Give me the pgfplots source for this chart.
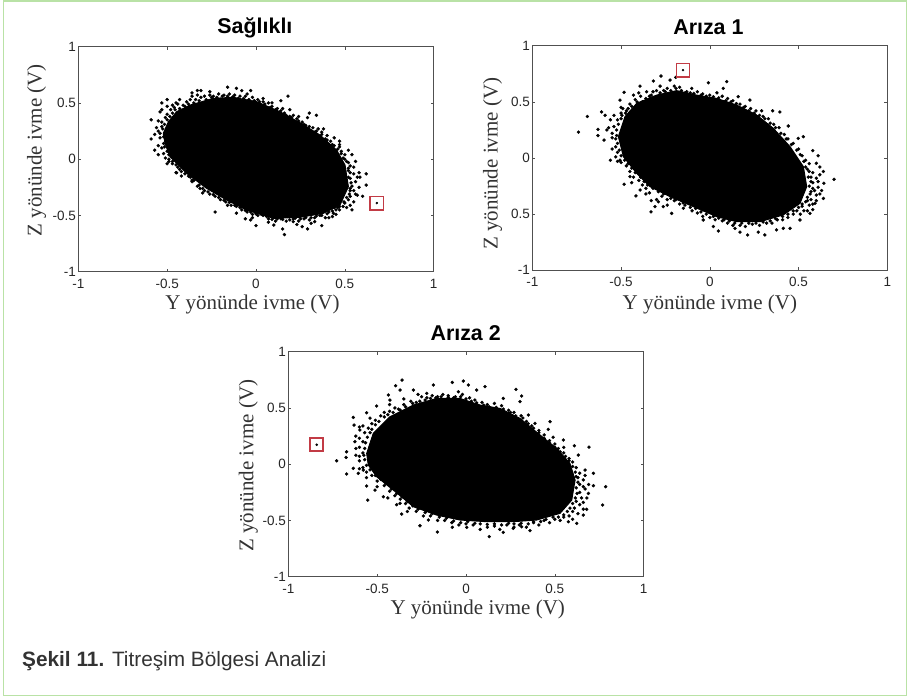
\documentclass[border=0pt]{standalone}
\usepackage{fontspec}
\usepackage{pgfplots}
\pgfplotsset{compat=1.18}
\setmainfont{Liberation Sans}
\newfontfamily\serifaxis{Liberation Serif}
\definecolor{framegreen}{HTML}{B9E2A6}
\definecolor{markred}{HTML}{C23B45}
\definecolor{axisgray}{HTML}{505050}
\pgfplotsset{
  every axis title shift=0pt,
  panel/.style={
    scale only axis, width=355.4pt, height=225pt, anchor=south west,
    xmin=-1,xmax=1,ymin=-1,ymax=1,
    axis line style={axisgray,line width=0.7pt},
    xtick={-1,-0.5,0,0.5,1}, ytick={-1,-0.5,0,0.5,1},
    xticklabels={-1,-0.5,0,0.5,1},
    tick align=inside, tick pos=both, major tick length=3pt,
    tick style={axisgray,line width=0.5pt},
    tick label style={font=\fontsize{13.5}{15}\selectfont,text=black!85},
    xticklabel style={yshift=-3.5pt},
    yticklabel style={xshift=1pt},
    xlabel={Y yönünde ivme (V)}, ylabel={Z yönünde ivme (V)},
    label style={font=\serifaxis\fontsize{21}{24}\selectfont,text=black!80},
    title style={font=\bfseries\fontsize{21.4}{25}\selectfont,anchor=base},
    clip=false,
  },
  core/.style={fill=black,draw=black,line width=1pt,line join=round},
  fringe/.style={only marks,mark=*,mark size=1.5pt,black,mark options={fill=black,draw=none}},
  boxed/.style={only marks,mark=square,mark size=6.6pt,mark options={draw=markred,fill=none,line width=1.7pt}},
  dot/.style={only marks,mark=*,mark size=1pt,black,mark options={draw=none}},
}
\begin{document}
\begin{tikzpicture}[x=1pt,y=1pt]
\useasboundingbox (0,0) rectangle (909,-698);
\draw[framegreen,line width=1.2pt] (3.5,-1) -- (906.5,-1) -- (906.5,-695.5) -- (3.5,-695.5) -- cycle;

\begin{axis}[panel,at={(78.3pt,-271.7pt)},yticklabels={-1,-0.5,0,0.5,1},
  title={Sağlıklı},title style={at={(axis description cs:0.497,1.0565)}},
  xlabel style={at={(axis description cs:0.49,-0.145)},anchor=center},
  ylabel style={at={(axis description cs:-0.117,0.54)},anchor=center}]
\addplot[core] coordinates {(-0.522,0.230)(-0.493,0.333)(-0.447,0.422)(-0.371,0.481)(-0.240,0.541)(-0.128,0.550)(0.004,0.511)(0.135,0.422)(0.248,0.324)(0.360,0.215)(0.454,0.081)(0.501,-0.052)(0.520,-0.244)(0.473,-0.407)(0.379,-0.481)(0.248,-0.517)(0.098,-0.526)(-0.053,-0.452)(-0.165,-0.363)(-0.278,-0.259)(-0.390,-0.126)(-0.484,0.022)(-0.512,0.141)} --cycle;
\addplot[fringe] coordinates {(-0.59,0.35)(-0.59,0.18)(-0.57,0.08)(-0.55,0.04)(-0.53,0.50)(-0.50,0.53)(-0.54,0.42)(-0.54,0.23)(-0.52,0.14)(-0.50,-0.04)(-0.45,-0.12)(-0.36,0.59)(-0.33,0.61)(-0.31,0.61)(-0.36,0.56)(-0.43,0.53)(-0.47,0.48)(-0.16,0.64)(-0.11,0.63)(-0.08,0.61)(-0.03,0.61)(-0.05,0.58)(0.04,0.54)(0.18,0.56)(0.14,0.52)(0.15,0.45)(0.19,0.44)(0.30,0.41)(0.34,0.39)(0.29,0.37)(0.21,0.39)(0.35,0.27)(0.40,0.21)(0.44,0.19)(0.47,0.16)(0.52,0.08)(0.54,0.04)(0.50,0.04)(0.55,-0.07)(0.58,-0.12)(0.62,-0.13)(0.585,-0.16)(0.62,-0.23)(0.60,-0.33)(0.57,-0.32)(0.53,-0.33)(0.54,-0.45)(0.47,-0.45)(0.43,-0.51)(0.37,-0.59)(0.29,-0.62)(0.26,-0.60)(0.15,-0.62)(0.16,-0.67)(0,-0.59)(-0.03,-0.54)(-0.06,-0.53)(-0.11,-0.48)(-0.23,-0.47)(-0.315,-0.26)(-0.36,-0.185)(-0.447,-0.12)(0.10,-0.585)(0.21,-0.555)(0.33,-0.555)(0.435,-0.48)
(-0.53,0.29)(-0.55,0.25)(-0.54,0.19)(-0.53,0.10)(-0.52,0.05)(-0.51,0.01)(-0.53,0.33)(-0.51,0.37)(-0.50,0.40)(-0.55,0.34)(-0.48,0.44)(-0.46,0.46)(-0.50,0.47)(-0.44,0.49)(-0.41,0.48)(-0.39,0.51)(-0.37,0.53)(-0.34,0.53)(-0.31,0.55)(-0.29,0.56)(-0.26,0.57)(-0.24,0.56)(-0.21,0.58)(-0.18,0.57)(-0.15,0.58)(-0.12,0.57)(-0.09,0.56)(-0.06,0.56)(-0.02,0.55)(0.01,0.53)(0.04,0.51)(0.07,0.50)(0.09,0.47)(0.12,0.45)(0.16,0.41)(0.19,0.38)(0.23,0.36)(0.26,0.33)(0.28,0.30)(0.32,0.28)(0.33,0.24)(0.37,0.24)(0.39,0.18)(0.42,0.16)(0.44,0.12)(0.47,0.11)(0.48,0.07)(0.50,0.00)(0.52,-0.03)(0.53,-0.06)(0.52,-0.10)(0.55,-0.13)(0.53,-0.17)(0.56,-0.20)(0.54,-0.24)(0.55,-0.28)(0.53,-0.28)(0.52,-0.36)(0.50,-0.39)(0.51,-0.43)(0.47,-0.42)(0.45,-0.45)(0.44,-0.43)(0.41,-0.47)(0.39,-0.52)(0.36,-0.50)(0.33,-0.52)(0.30,-0.54)(0.27,-0.53)(0.24,-0.55)(0.21,-0.53)(0.17,-0.55)(0.14,-0.53)(0.11,-0.55)(0.07,-0.53)(0.04,-0.50)(0.01,-0.50)(-0.02,-0.49)(-0.05,-0.47)(-0.08,-0.45)(-0.11,-0.42)(-0.14,-0.41)(-0.17,-0.38)(-0.20,-0.36)(-0.23,-0.33)(-0.26,-0.31)(-0.29,-0.28)(-0.33,-0.24)(-0.36,-0.20)(-0.38,-0.15)(-0.42,-0.11)(-0.44,-0.07)(-0.47,-0.04)(-0.49,-0.02)
(-0.525,0.27)(-0.52,0.20)(-0.515,0.11)(-0.50,0.07)(-0.49,0.04)(-0.515,0.31)(-0.50,0.35)(-0.485,0.38)(-0.47,0.41)(-0.455,0.44)(-0.43,0.45)(-0.40,0.47)(-0.38,0.49)(-0.35,0.50)(-0.32,0.52)(-0.28,0.53)(-0.25,0.55)(-0.22,0.55)(-0.19,0.56)(-0.16,0.56)(-0.13,0.555)(-0.10,0.54)(-0.07,0.54)(-0.04,0.53)(-0.01,0.52)(0.02,0.51)(0.05,0.49)(0.08,0.46)(0.11,0.44)(0.14,0.43)(0.17,0.39)(0.20,0.37)(0.24,0.34)(0.27,0.31)(0.30,0.29)(0.34,0.25)(0.37,0.22)(0.40,0.17)(0.43,0.13)(0.46,0.09)(0.48,0.05)(0.49,0.01)(0.51,-0.02)(0.52,-0.08)(0.53,-0.12)(0.52,-0.16)(0.535,-0.21)(0.53,-0.26)(0.525,-0.31)(0.51,-0.34)(0.495,-0.38)(0.49,-0.42)(0.46,-0.43)(0.43,-0.46)(0.40,-0.485)(0.37,-0.50)(0.34,-0.505)(0.31,-0.52)(0.28,-0.52)(0.25,-0.53)(0.22,-0.525)(0.19,-0.54)(0.15,-0.535)(0.12,-0.53)(0.09,-0.535)(0.06,-0.51)(0.03,-0.49)(0.00,-0.485)(-0.03,-0.47)(-0.06,-0.455)(-0.09,-0.43)(-0.12,-0.41)(-0.15,-0.385)(-0.18,-0.365)(-0.21,-0.34)(-0.24,-0.315)(-0.27,-0.29)(-0.30,-0.26)(-0.32,-0.23)(-0.35,-0.19)(-0.37,-0.16)(-0.40,-0.13)(-0.43,-0.09)(-0.45,-0.05)(-0.47,-0.02)(-0.49,0.00)
(-0.56,0.28)(-0.57,0.22)(-0.55,0.12)(-0.53,0.44)(-0.45,0.50)(-0.33,0.57)(-0.26,0.60)(0.09,0.50)(0.24,0.38)(0.38,0.27)(0.47,0.13)(0.56,-0.02)(0.57,-0.16)(0.58,-0.25)(0.56,-0.31)(0.55,-0.38)(0.53,-0.41)(0.45,-0.49)(0.41,-0.52)(0.31,-0.57)(0.23,-0.58)(0.07,-0.56)(-0.02,-0.52)(-0.16,-0.41)(-0.30,-0.30)(-0.42,-0.15)};
\addplot[dot] coordinates {(0.68,-0.39)};
\addplot[boxed] coordinates {(0.68,-0.39)};
\end{axis}

\begin{axis}[panel,at={(532.3pt,-270.3pt)},yticklabels={-1,0.5,0,0.5,1},width=355pt,height=224.6pt,
  title={Arıza 1},title style={at={(axis description cs:0.496,1.052)}},
  xlabel style={at={(axis description cs:0.5,-0.15)},anchor=center},
  ylabel style={at={(axis description cs:-0.1115,0.475)},anchor=center}]
\addplot[core] coordinates {(-0.515,0.19)(-0.478,0.368)(-0.412,0.487)(-0.30,0.56)(-0.187,0.60)(-0.074,0.56)(0.038,0.531)(0.151,0.472)(0.264,0.383)(0.358,0.264)(0.452,0.101)(0.527,-0.077)(0.546,-0.255)(0.508,-0.404)(0.414,-0.507)(0.283,-0.567)(0.151,-0.567)(0.038,-0.522)(-0.093,-0.433)(-0.224,-0.344)(-0.337,-0.255)(-0.412,-0.136)(-0.487,0.012)} --cycle;
\addplot[fringe] coordinates {(-0.74,0.23)(-0.69,0.37)(-0.63,0.255)(-0.63,0.20)(-0.61,0.41)(-0.59,0.38)(-0.58,0.25)(-0.596,0.16)(-0.54,0.38)(-0.56,-0.02)(-0.53,0.01)(-0.506,0.516)(-0.483,0.585)(-0.506,-0.02)(-0.483,-0.234)(-0.45,-0.166)(-0.416,-0.338)(-0.393,-0.285)(-0.331,-0.48)(-0.309,-0.433)(-0.262,-0.433)(-0.215,-0.493)(-0.149,-0.448)(-0.393,0.64)(-0.318,0.685)(-0.275,0.73)(-0.224,0.694)(-0.192,0.718)(-0.356,0.59)(-0.28,0.64)(-0.102,0.62)(-0.008,0.67)(0.095,0.68)(0.076,0.62)(0.16,0.546)(0.226,0.516)(0.292,0.42)(0.354,0.42)(0.395,0.41)(0.442,0.285)(0.498,0.175)(0.527,0.19)(0.58,0.065)(0.61,0.02)(0.60,-0.047)(0.64,-0.12)(0.70,-0.19)(0.643,-0.225)(0.64,-0.36)(0.593,-0.404)(0.564,-0.493)(0.508,-0.552)(0.452,-0.626)(0.414,-0.626)(0.376,-0.64)(0.31,-0.685)(0.273,-0.66)(0.213,-0.685)(0.17,-0.66)(0.142,-0.626)(0.048,-0.65)(0.02,-0.61)(-0.037,-0.552)
(-0.53,0.17)(-0.55,0.22)(-0.54,0.28)(-0.52,0.34)(-0.53,0.10)(-0.52,0.05)(-0.55,0.08)(-0.50,0.40)(-0.49,0.44)(-0.47,0.42)(-0.45,0.48)(-0.42,0.52)(-0.38,0.50)(-0.39,0.55)(-0.34,0.55)(-0.32,0.59)(-0.30,0.60)(-0.26,0.60)(-0.24,0.62)(-0.20,0.64)(-0.17,0.63)(-0.14,0.58)(-0.11,0.58)(-0.07,0.59)(-0.04,0.57)(0.00,0.56)(0.04,0.58)(0.07,0.55)(0.10,0.53)(0.13,0.51)(0.17,0.48)(0.20,0.46)(0.23,0.44)(0.26,0.42)(0.30,0.37)(0.33,0.35)(0.36,0.30)(0.39,0.27)(0.42,0.21)(0.44,0.17)(0.47,0.13)(0.50,0.08)(0.52,0.02)(0.54,-0.02)(0.56,-0.05)(0.55,-0.10)(0.58,-0.13)(0.57,-0.17)(0.60,-0.18)(0.58,-0.22)(0.61,-0.26)(0.59,-0.29)(0.57,-0.30)(0.60,-0.33)(0.57,-0.37)(0.55,-0.38)(0.56,-0.42)(0.52,-0.43)(0.53,-0.47)(0.49,-0.47)(0.47,-0.50)(0.44,-0.53)(0.41,-0.55)(0.38,-0.55)(0.35,-0.58)(0.32,-0.58)(0.28,-0.60)(0.24,-0.59)(0.20,-0.61)(0.17,-0.60)(0.13,-0.60)(0.10,-0.58)(0.07,-0.56)(0.03,-0.55)(0.00,-0.53)(-0.04,-0.52)(-0.07,-0.49)(-0.10,-0.47)(-0.14,-0.42)(-0.17,-0.41)(-0.20,-0.38)(-0.24,-0.37)(-0.27,-0.34)(-0.30,-0.37)(-0.34,-0.31)(-0.36,-0.27)(-0.38,-0.24)(-0.40,-0.20)(-0.43,-0.17)(-0.45,-0.12)(-0.47,-0.07)(-0.50,-0.04)(-0.52,-0.03)
(-0.525,0.20)(-0.525,0.25)(-0.515,0.30)(-0.50,0.35)(-0.495,0.38)(-0.475,0.40)(-0.46,0.44)(-0.44,0.46)(-0.41,0.50)(-0.36,0.53)(-0.33,0.56)(-0.28,0.58)(-0.25,0.59)(-0.22,0.60)(-0.19,0.62)(-0.16,0.60)(-0.13,0.59)(-0.09,0.575)(-0.05,0.56)(-0.02,0.55)(0.02,0.545)(0.05,0.535)(0.09,0.51)(0.12,0.50)(0.15,0.485)(0.19,0.45)(0.22,0.42)(0.25,0.40)(0.28,0.38)(0.31,0.35)(0.34,0.31)(0.37,0.27)(0.40,0.22)(0.43,0.17)(0.46,0.12)(0.49,0.07)(0.51,0.03)(0.53,-0.03)(0.54,-0.08)(0.56,-0.12)(0.555,-0.17)(0.57,-0.21)(0.56,-0.25)(0.58,-0.27)(0.565,-0.32)(0.55,-0.35)(0.54,-0.39)(0.52,-0.41)(0.50,-0.44)(0.47,-0.47)(0.44,-0.50)(0.41,-0.52)(0.37,-0.54)(0.34,-0.56)(0.30,-0.57)(0.26,-0.58)(0.22,-0.58)(0.18,-0.58)(0.14,-0.58)(0.11,-0.56)(0.08,-0.55)(0.05,-0.535)(0.02,-0.52)(-0.02,-0.50)(-0.05,-0.48)(-0.08,-0.45)(-0.11,-0.44)(-0.15,-0.40)(-0.19,-0.37)(-0.22,-0.36)(-0.26,-0.32)(-0.29,-0.30)(-0.32,-0.27)(-0.35,-0.24)(-0.37,-0.21)(-0.39,-0.17)(-0.42,-0.13)(-0.44,-0.09)(-0.46,-0.05)(-0.48,-0.02)(-0.50,0.02)(-0.51,0.07)(-0.52,0.13)
(0.62,-0.08)(0.62,-0.15)(0.61,-0.21)(0.63,-0.29)(0.62,-0.32)(0.60,-0.38)(0.58,-0.41)(0.58,-0.46)(0.55,-0.47)(0.51,-0.50)(-0.57,0.27)(-0.56,0.34)(-0.55,0.18)(-0.50,0.45)(-0.43,0.56)(-0.40,0.58)(-0.33,-0.38)(-0.36,-0.32)(-0.29,-0.39)(-0.24,-0.42)(-0.44,-0.22)};
\addplot[dot] coordinates {(-0.151,0.783)};
\addplot[boxed] coordinates {(-0.151,0.783)};
\end{axis}

\begin{axis}[panel,at={(288.3pt,-576.7pt)},yticklabels={-1,-0.5,0,0.5,1},
  title={Arıza 2},title style={at={(axis description cs:0.499,1.052)}},
  xlabel style={at={(axis description cs:0.533,-0.145)},anchor=center},
  ylabel style={at={(axis description cs:-0.1125,0.493)},anchor=center}]
\addplot[core] coordinates {(-0.559,0.096)(-0.522,0.274)(-0.428,0.422)(-0.296,0.526)(-0.165,0.585)(-0.034,0.585)(0.079,0.526)(0.191,0.496)(0.304,0.407)(0.417,0.259)(0.51,0.141)(0.585,0.007)(0.614,-0.141)(0.595,-0.319)(0.529,-0.437)(0.398,-0.496)(0.266,-0.511)(0.116,-0.511)(-0.034,-0.496)(-0.165,-0.452)(-0.296,-0.378)(-0.409,-0.23)(-0.503,-0.111)(-0.55,-0.007)} --cycle;
\addplot[fringe] coordinates {(-0.728,0.03)(-0.672,0.11)(-0.675,0.06)(-0.672,-0.087)(-0.634,0.416)(-0.63,0.348)(-0.625,0.2)(-0.634,-0.037)(-0.606,-0.081)(-0.578,-0.052)(-0.597,0.304)(-0.559,0.457)(-0.559,-0.194)(-0.553,-0.319)(-0.503,0.517)(-0.512,-0.23)(-0.465,-0.289)(-0.362,-0.443)(-0.371,-0.348)(-0.259,-0.547)(-0.161,-0.603)(-0.212,-0.496)(-0.077,-0.561)(0.004,-0.561)(-0.437,0.615)(-0.428,0.57)(-0.396,0.698)(-0.36,0.748)(-0.371,0.659)(-0.296,0.659)(-0.221,0.63)(-0.184,0.704)(-0.077,0.727)(-0.015,0.739)(0.013,0.704)(-0.043,0.644)(0.06,0.659)(0.107,0.689)(0.21,0.585)(0.281,0.665)(0.313,0.606)(0.304,0.556)(0.351,0.437)(0.388,0.363)(0.473,0.378)(0.463,0.31)(0.548,0.215)(0.61,0.164)(0.692,0.152)(0.632,0.081)(0.67,-0.052)(0.717,-0.081)(0.717,-0.191)(0.786,-0.2)(0.689,-0.26)(0.679,-0.401)(0.769,-0.363)(0.66,-0.452)(0.623,-0.526)(0.576,-0.511)(0.36,-0.591)(0.313,-0.556)(0.21,-0.606)(0.131,-0.644)(0.266,-0.57)
(-0.58,0.10)(-0.60,0.15)(-0.58,0.20)(-0.60,0.23)(-0.57,0.28)(-0.55,0.32)(-0.58,0.34)(-0.53,0.36)(-0.51,0.39)(-0.54,0.41)(-0.48,0.43)(-0.46,0.46)(-0.43,0.47)(-0.40,0.50)(-0.38,0.49)(-0.35,0.53)(-0.31,0.56)(-0.28,0.55)(-0.25,0.60)(-0.22,0.59)(-0.19,0.61)(-0.16,0.60)(-0.13,0.62)(-0.10,0.61)(-0.06,0.60)(-0.02,0.62)(0.02,0.59)(0.05,0.57)(0.09,0.55)(0.12,0.53)(0.16,0.54)(0.20,0.52)(0.24,0.48)(0.27,0.46)(0.31,0.43)(0.34,0.38)(0.37,0.34)(0.41,0.30)(0.44,0.26)(0.47,0.21)(0.50,0.18)(0.52,0.14)(0.55,0.10)(0.58,0.05)(0.60,0.02)(0.62,-0.03)(0.64,-0.08)(0.63,-0.12)(0.66,-0.14)(0.64,-0.18)(0.67,-0.22)(0.64,-0.25)(0.65,-0.30)(0.62,-0.33)(0.64,-0.36)(0.61,-0.39)(0.60,-0.42)(0.58,-0.46)(0.55,-0.47)(0.53,-0.50)(0.50,-0.49)(0.47,-0.52)(0.44,-0.50)(0.41,-0.54)(0.38,-0.52)(0.34,-0.56)(0.30,-0.54)(0.27,-0.56)(0.23,-0.54)(0.19,-0.58)(0.16,-0.55)(0.12,-0.56)(0.08,-0.58)(0.04,-0.54)(0.00,-0.53)(-0.04,-0.54)(-0.08,-0.52)(-0.12,-0.50)(-0.16,-0.50)(-0.20,-0.46)(-0.24,-0.46)(-0.28,-0.42)(-0.32,-0.39)(-0.34,-0.35)(-0.37,-0.31)(-0.40,-0.28)(-0.43,-0.24)(-0.46,-0.19)(-0.50,-0.15)(-0.53,-0.10)(-0.56,-0.07)(-0.58,-0.03)(-0.60,0.03)(-0.60,0.07)
(-0.57,0.14)(-0.565,0.19)(-0.555,0.24)(-0.54,0.28)(-0.53,0.31)(-0.51,0.35)(-0.49,0.38)(-0.46,0.42)(-0.44,0.44)(-0.41,0.46)(-0.37,0.48)(-0.34,0.51)(-0.30,0.54)(-0.26,0.56)(-0.23,0.57)(-0.20,0.585)(-0.17,0.59)(-0.14,0.60)(-0.10,0.595)(-0.07,0.59)(-0.03,0.60)(0.00,0.58)(0.03,0.56)(0.06,0.545)(0.10,0.525)(0.13,0.51)(0.17,0.505)(0.21,0.49)(0.25,0.46)(0.28,0.43)(0.32,0.41)(0.35,0.36)(0.38,0.32)(0.41,0.28)(0.44,0.23)(0.47,0.19)(0.50,0.15)(0.53,0.11)(0.56,0.07)(0.58,0.03)(0.60,-0.02)(0.615,-0.07)(0.62,-0.11)(0.63,-0.16)(0.62,-0.21)(0.625,-0.26)(0.615,-0.30)(0.60,-0.35)(0.585,-0.39)(0.57,-0.42)(0.55,-0.45)(0.52,-0.47)(0.49,-0.47)(0.45,-0.49)(0.42,-0.51)(0.38,-0.51)(0.35,-0.53)(0.31,-0.525)(0.27,-0.53)(0.24,-0.525)(0.20,-0.54)(0.16,-0.53)(0.12,-0.535)(0.08,-0.53)(0.05,-0.525)(0.01,-0.51)(-0.03,-0.52)(-0.07,-0.505)(-0.11,-0.48)(-0.15,-0.47)(-0.19,-0.44)(-0.23,-0.43)(-0.27,-0.40)(-0.30,-0.37)(-0.33,-0.33)(-0.36,-0.29)(-0.39,-0.26)(-0.42,-0.22)(-0.45,-0.17)(-0.48,-0.135)(-0.51,-0.10)(-0.54,-0.05)(-0.56,-0.01)(-0.57,0.04)(-0.575,0.08)
(0.67,-0.10)(0.66,-0.20)(0.69,-0.18)(0.68,-0.30)(0.66,-0.34)(0.66,-0.40)(0.63,-0.44)(0.60,-0.49)(-0.62,0.14)(-0.62,0.25)(-0.60,0.33)(-0.62,0.08)(-0.60,-0.04)(-0.56,-0.12)(-0.50,-0.20)(-0.44,-0.30)(-0.39,-0.36)(-0.33,-0.42)(-0.43,0.53)(-0.35,0.58)(-0.27,0.62)(0.55,0.15)(0.49,0.24)};
\addplot[dot] coordinates {(-0.84,0.173)};
\addplot[boxed] coordinates {(-0.84,0.173)};
\end{axis}

\node[anchor=west,text=black!80,font=\fontsize{20.8}{24}\selectfont,inner sep=0pt] at (22,-661) {\textbf{Şekil 11.} Titreşim Bölgesi Analizi};
\end{tikzpicture}
\end{document}
